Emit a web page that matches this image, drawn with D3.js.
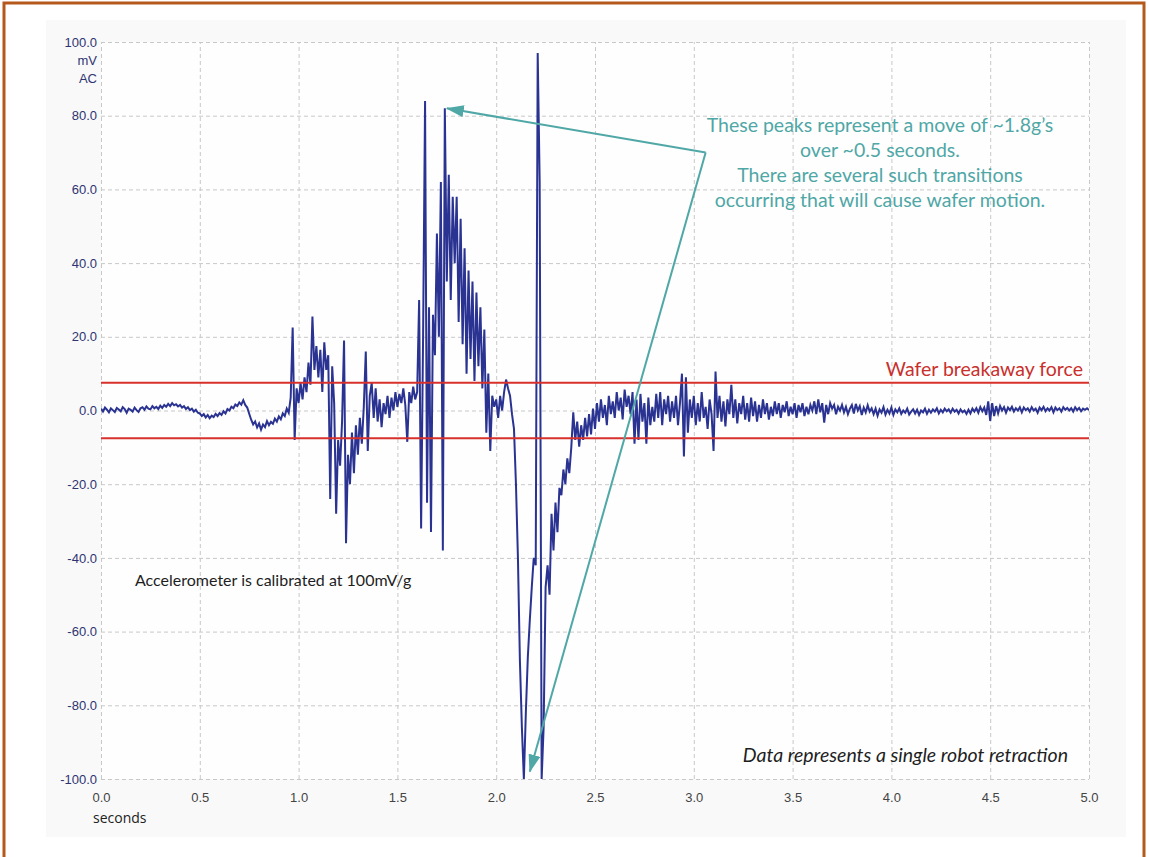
<!DOCTYPE html>
<html>
<head>
<meta charset="utf-8">
<script src="https://cdn.jsdelivr.net/npm/d3@7/dist/d3.min.js"></script>
<style>
  body { margin: 0; background: #fff; }
  svg { display: block; }
</style>
</head>
<body>
<svg id="chart" width="1149" height="857"></svg>
<script>
'use strict'

// accelerometer trace, one value (mV) every 0.01 s from 0.0 to 5.0 s
var step = 0.01;
var signal = [
    0.5, -0.3, 0.8, 0.2, -0.5, 0.6, 0.1, -0.4, 0.7, 0.3,
    -0.2, 0.9, 0.4, -0.6, 0.5, 0.2, -0.3, 0.8, 0.1, -0.4,
    0.6, 0.9, 0.2, 1.1, 0.5, 0.3, 1.2, 0.6, 1.0, 0.4,
    1.3, 0.7, 1.5, 1.0, 1.8, 1.2, 2.0, 1.4, 1.7, 1.1,
    1.5, 0.8, 1.2, 0.4, 0.9, 0.1, 0.5, -0.3, 0.2, -0.6,
    -0.8, -1.5, -1.0, -1.9, -1.2, -2.1, -1.4, -1.8, -0.9, -1.5,
    -0.7, -1.2, -0.2, -0.8, 0.4, 0.0, 1.0, 0.6, 1.6, 1.2,
    2.2, 1.6, 2.8, 1.5, 0.8, -0.9, -2.5, -3.8, -3.0, -4.6,
    -3.5, -5.2, -3.8, -4.5, -2.9, -4.0, -3.1, -3.6, -2.2, -3.0,
    -1.6, -2.4, -0.8, -1.5, 0.5, -0.6, 3.5, 22.5, -8.0, 6.0,
    2.0, 7.5, 3.0, 9.0, 5.0, 13.0, 7.0, 25.5, 11.0, 17.5,
    9.0, 16.5, 5.0, 18.5, 11.0, 15.0, -24.0, 12.0, 2.0, -28.0,
    -8.0, -15.0, -3.0, 19.0, -36.0, -12.0, -20.0, -6.0, -17.0, -4.0,
    -12.0, -2.0, -9.0, 1.0, 16.0, -11.0, 4.0, 7.5, -2.0, 6.0,
    -3.0, 3.0, -4.5, 2.0, -1.0, 4.0, -2.0, 3.5, 0.0, 5.0,
    1.0, 4.5, 2.0, 6.0, 1.5, -8.5, 5.0, 2.0, 6.5, 3.0,
    5.0, 30.0, -32.0, 20.0, 84.0, -25.0, 28.0, -33.0, 26.0, 15.0,
    48.0, 20.0, 62.0, -38.0, 82.0, 35.0, 64.0, 30.0, 58.0, 40.0,
    58.0, 24.0, 52.0, 18.0, 44.0, 10.0, 38.0, 14.0, 35.0, 8.0,
    32.0, 12.0, 28.0, 6.0, 22.0, -6.0, 10.0, -11.0, 4.0, 1.0,
    3.0, -2.0, 4.0, 0.0, 5.0, 8.4, 6.0, 4.0, -1.0, -5.0,
    -20.0, -40.0, -68.0, -86.0, -100.0, -82.0, -67.0, -57.0, -48.0, -40.0,
    -42.0, 97.0, 62.0, -100.0, -86.0, -48.0, -42.0, -50.0, -28.0, -38.0,
    -25.0, -33.0, -21.0, -23.0, -16.0, -20.0, -13.0, -17.0, -10.0, -0.5,
    -8.0, -3.0, -9.8, -4.0, -8.0, -2.0, -7.0, -1.0, -6.5, 0.5,
    -5.0, 2.0, -3.0, 3.0, -2.0, 1.5, -4.0, 4.0, -1.0, 2.5,
    -2.0, 5.0, 0.0, 3.5, -2.4, 5.7, 1.0, 4.0, -1.0, 5.0,
    -9.0, 3.0, -8.0, 4.5, -3.0, 2.0, -9.0, 3.5, -4.0, 1.0,
    -3.0, 4.5, -2.0, 5.0, -4.0, 3.0, -1.0, 4.0, -3.0, 2.5,
    -2.0, 4.0, -4.0, 2.0, 10.0, -12.5, 9.0, -6.0, 3.0, -2.0,
    4.0, -4.0, 2.0, -3.0, 5.0, -2.0, 1.0, -5.0, 3.0, -1.0,
    -11.0, 10.6, -2.0, 4.0, -3.0, 2.5, -4.3, 3.0, -1.0, 7.0,
    -2.0, 3.0, -3.5, 2.0, -1.0, 4.0, -2.5, 2.0, -3.0, 3.5,
    -1.5, 2.5, -3.0, 1.5, -2.0, 3.0, -1.0, 2.0, -2.5, 1.0,
    -1.5, 2.5, -1.0, 2.0, -2.0, 1.5, -0.5, 2.5, -1.5, 1.0,
    -1.0, 2.0, -2.0, 1.5, -0.5, 2.0, -1.5, 1.0, -1.0, 1.5,
    0.0, 2.5, -1.0, 3.0, -0.5, 2.0, -3.3, 1.5, -1.0, 2.0,
    0.5, 1.5, -1.0, 1.0, 0.0, 1.5, -0.5, 1.0, -1.0, 0.5,
    1.5, -0.8, 1.8, 0.0, 1.2, -1.2, 0.8, -0.5, 1.4, -0.3,
    0.6, -1.0, 0.5, -1.4, 0.3, -0.6, 0.9, -1.1, 0.2, -0.8,
    0.8, -1.2, 0.3, -0.5, 0.6, -0.9, 0.0, -0.6, 0.5, -1.1,
    -0.3, 0.3, -0.8, 0.2, -1.2, 0.0, -0.5, 0.5, -0.9, 0.2,
    -0.6, 0.3, -0.3, 0.6, -0.8, 0.2, -0.5, 0.5, -0.2, 0.3,
    -0.6, 0.5, -0.3, 0.2, -0.8, 0.3, -0.5, 0.0, -0.9, 0.2,
    -0.8, 0.5, -0.3, 0.6, -0.6, 0.9, -0.2, 0.8, -1.2, 2.5,
    -2.8, 2.0, -1.5, 1.2, -0.8, 1.2, 0.0, 0.9, -0.6, 0.8,
    0.1, 1.0, -0.3, 0.6, 0.0, 0.9, -0.5, 0.8, 0.1, 0.6,
    -0.3, 0.9, 0.0, 0.5, -0.6, 0.8, 0.1, 1.0, -0.2, 0.6,
    0.0, 0.9, -0.5, 0.8, 0.1, 0.6, -0.3, 0.9, 0.2, 0.7,
    0.0, 0.6, -0.3, 0.9, 0.1, 0.7, -0.2, 0.5, 0.2, 0.6,
    0.1
];

var xTicks = [0, 0.5, 1.0, 1.5, 2.0, 2.5, 3.0, 3.5, 4.0, 4.5, 5.0];
var yTicks = [-100, -80, -60, -40, -20, 0, 20, 40, 60, 80, 100];
var breakaway = [7.5, -7.5];

var peakNote = [
    "These peaks represent a move of ~1.8g\u2019s",
    "over ~0.5 seconds.",
    "There are several such transitions",
    "occurring that will cause wafer motion."
];
// arrow start and tips, in seconds / mV
var arrowFrom = [3.06, 70];
var arrowTips = [[1.75, 82], [2.17, -98]];


const plotL = 101, plotR = 1089, plotT = 42, plotB = 779;
const teal = "#4fa7a6";
const fmt = d3.formatLocale({decimal: ".", thousands: ",", grouping: [3], currency: ["", ""], minus: "-"}).format(".1f");

var svg = d3.select("#chart");

var x = d3.scaleLinear().domain([0, 5]).range([plotL, plotR]);
var y = d3.scaleLinear().domain([-100, 100]).range([plotB, plotT]);

// frame and panel
svg.append("rect")
    .attr("x", 4).attr("y", 3)
    .attr("width", 1140).attr("height", 900)
    .attr("fill", "#fff")
    .attr("stroke", "#b5581c")
    .attr("stroke-width", 3);

svg.append("rect")
    .attr("x", 46).attr("y", 20)
    .attr("width", 1080).attr("height", 817)
    .attr("fill", "#f9f9f9");

svg.append("rect")
    .attr("x", plotL).attr("y", plotT)
    .attr("width", plotR - plotL).attr("height", plotB - plotT)
    .attr("fill", "#fefefe");

// grid + axes
var gx = svg.append("g")
    .attr("transform", "translate(0," + plotB + ")")
    .call(d3.axisBottom(x)
        .tickValues(xTicks)
        .tickSize(-(plotB - plotT))
        .tickPadding(14)
        .tickFormat(fmt));

var gy = svg.append("g")
    .attr("transform", "translate(" + plotL + ",0)")
    .call(d3.axisLeft(y)
        .tickValues(yTicks)
        .tickSize(-(plotR - plotL))
        .tickPadding(4)
        .tickFormat(fmt));

[gx, gy].forEach(function(g){
    g.select(".domain").remove();
    g.selectAll(".tick line")
        .attr("stroke", "#c8c8c8")
        .attr("stroke-dasharray", "4,3");
    g.selectAll(".tick text")
        .attr("font-family", "'Liberation Sans', Arial, sans-serif")
        .attr("font-size", 13);
});
gx.selectAll(".tick text").attr("fill", "#444");
gy.selectAll(".tick text").attr("fill", "#2e3472");

svg.append("text")
    .attr("x", plotL - 4).attr("y", 65)
    .attr("text-anchor", "end")
    .attr("font-family", "'Liberation Sans', Arial, sans-serif")
    .attr("font-size", 13).attr("fill", "#2e3472")
    .text("mV");
svg.append("text")
    .attr("x", plotL - 4).attr("y", 83)
    .attr("text-anchor", "end")
    .attr("font-family", "'Liberation Sans', Arial, sans-serif")
    .attr("font-size", 13).attr("fill", "#2e3472")
    .text("AC");

svg.append("text")
    .attr("x", 93).attr("y", 823)
    .attr("font-family", "'Open Sans', sans-serif")
    .attr("font-size", 14).attr("fill", "#222")
    .text("seconds");

// trace
svg.append("clipPath").attr("id", "plotclip")
    .append("rect")
    .attr("x", plotL).attr("y", plotT - 1)
    .attr("width", plotR - plotL).attr("height", plotB - plotT + 2);

var line = d3.line()
    .x(function(d, i){ return x(i * step); })
    .y(function(d){ return y(d); });

svg.append("path")
    .datum(signal)
    .attr("clip-path", "url(#plotclip)")
    .attr("fill", "none")
    .attr("stroke", "#2a3392")
    .attr("stroke-width", 2)
    .attr("stroke-linejoin", "miter")
    .attr("d", line);

// breakaway force limits
svg.selectAll(".limit")
    .data(breakaway)
    .enter().append("line")
    .attr("class", "limit")
    .attr("x1", x(0)).attr("x2", x(5))
    .attr("y1", function(d){ return y(d); })
    .attr("y2", function(d){ return y(d); })
    .attr("stroke", "#d8312c")
    .attr("stroke-width", 2);

svg.append("text")
    .attr("x", 1083).attr("y", 376)
    .attr("text-anchor", "end")
    .attr("font-family", "Lato, sans-serif")
    .attr("font-size", 19.5).attr("fill", "#c9302c")
    .text("Wafer breakaway force");

// notes
svg.append("text")
    .attr("x", 135).attr("y", 586)
    .attr("font-family", "Lato, sans-serif")
    .attr("font-size", 16).attr("fill", "#1e1e1e")
    .text("Accelerometer is calibrated at 100mV/g");

svg.append("text")
    .attr("x", 1068).attr("y", 762)
    .attr("text-anchor", "end")
    .attr("font-family", "Lato, sans-serif")
    .attr("font-style", "italic")
    .attr("font-size", 19.5).attr("fill", "#1e1e1e")
    .text("Data represents a single robot retraction");

svg.append("text")
    .attr("x", 880).attr("y", 132)
    .attr("text-anchor", "middle")
    .attr("font-family", "Lato, sans-serif")
    .attr("font-size", 19.5).attr("fill", teal)
    .selectAll("tspan")
    .data(peakNote)
    .enter().append("tspan")
    .attr("x", 880)
    .attr("dy", function(d, i){ return i == 0 ? 0 : 25; })
    .text(function(d){ return d; });

// arrows
svg.append("defs").append("marker")
    .attr("id", "head")
    .attr("markerUnits", "userSpaceOnUse")
    .attr("viewBox", "0 0 18 12")
    .attr("refX", 17).attr("refY", 6)
    .attr("markerWidth", 18).attr("markerHeight", 12)
    .attr("orient", "auto")
    .append("path")
    .attr("d", "M0,0 L18,6 L0,12 Z")
    .attr("fill", teal);

svg.selectAll(".arrow")
    .data(arrowTips)
    .enter().append("line")
    .attr("class", "arrow")
    .attr("x1", x(arrowFrom[0])).attr("y1", y(arrowFrom[1]))
    .attr("x2", function(d){ return x(d[0]); })
    .attr("y2", function(d){ return y(d[1]); })
    .attr("stroke", teal)
    .attr("stroke-width", 2)
    .attr("marker-end", "url(#head)");
</script>
</body>
</html>
